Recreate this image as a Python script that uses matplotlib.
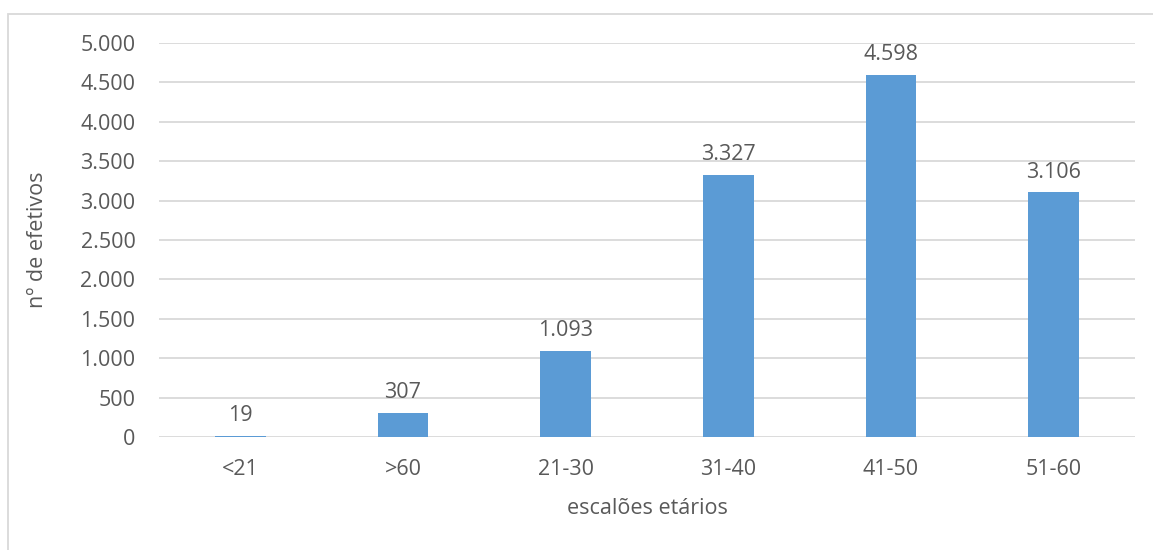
import matplotlib
matplotlib.use("Agg")
import matplotlib.pyplot as plt
from matplotlib.patches import Rectangle
from matplotlib.ticker import FuncFormatter

categorias = ["<21", ">60", "21-30", "31-40", "41-50", "51-60"]
efetivos = [19, 307, 1093, 3327, 4598, 3106]
yticks = [0, 500, 1000, 1500, 2000, 2500, 3000, 3500, 4000, 4500, 5000]

plt.rcParams['font.family'] = ['Open Sans', 'DejaVu Sans']
cinza = "#595959"
fs = 15.5


def pt(v, pos=None):
    return f"{int(v):,}".replace(",", ".")


fig = plt.figure(figsize=(11.53, 5.5), dpi=100)
ax = fig.add_axes([159/1153, 1 - 437/550, (1135-159)/1153, (437-43)/550])

x = range(len(categorias))
bars = ax.bar(x, efetivos, width=0.31, color="#5B9BD5", zorder=3)
for b, v in zip(bars, efetivos):
    ax.text(b.get_x() + b.get_width()/2, v + 120, pt(v), ha="center", va="bottom",
            fontsize=fs, color=cinza)

ax.set_xlim(-0.5, len(categorias) - 0.5)
ax.set_ylim(0, 5000)
ax.set_yticks(yticks)
ax.yaxis.set_major_formatter(FuncFormatter(pt))
ax.set_xticks(list(x))
ax.set_xticklabels(categorias)
ax.grid(axis="y", color="#D9D9D9", linewidth=1.3, zorder=0)
for s in ax.spines.values():
    s.set_visible(False)
ax.tick_params(length=0, labelsize=fs, labelcolor=cinza)
ax.tick_params(axis="y", pad=17)
ax.tick_params(axis="x", pad=16)
ax.set_xlabel("escalões etários", fontsize=fs, color=cinza, labelpad=13)
ax.set_ylabel("nº de efetivos", fontsize=fs, color=cinza, labelpad=23)

fig.patches.append(Rectangle((8/1153, -0.05), 1.1, 1 - 14/550 + 0.05, transform=fig.transFigure,
                             fill=False, edgecolor="#D9D9D9", linewidth=1.3))

fig.savefig("out.png", dpi=100)
